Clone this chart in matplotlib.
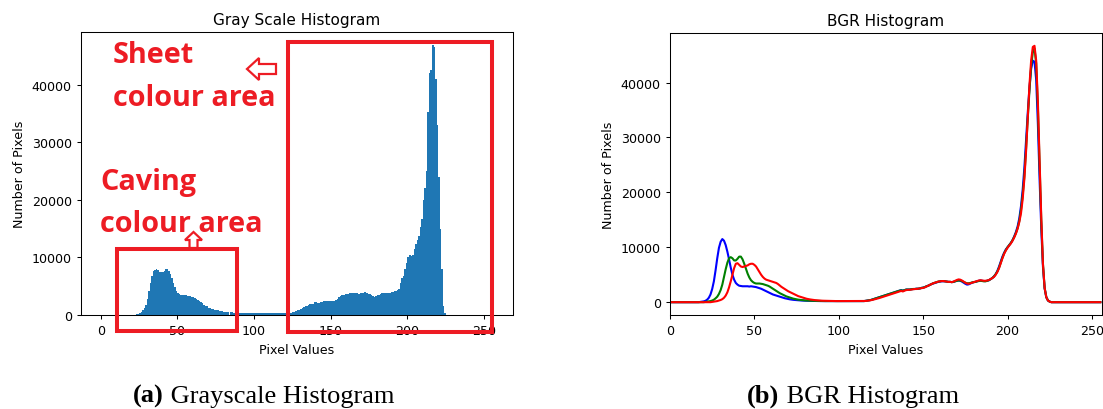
import numpy as np
import matplotlib
matplotlib.use("Agg")
import matplotlib.pyplot as plt
from matplotlib.patches import Rectangle, Polygon

# ---------------------------------------------------------------- data
# intensity levels 0..255 (one histogram bin per level)
pixel_values = np.arange(256)

# grayscale histogram, counts in thousands of pixels
gray_k = (
    [0] * 22
    + [0.05, 0.1, 0.2, 0.3, 0.5, 0.8, 1.2, 1.8, 2.8, 4.2,
       5.6, 6.8, 7.6, 7.9, 8.0, 7.8, 7.5, 7.4, 7.5, 7.7,
       8.0, 8.0, 7.6, 7.1, 6.4, 5.6, 4.8, 4.2, 3.8, 3.6,
       3.5, 3.5, 3.4, 3.4, 3.3, 3.3, 3.3, 3.2, 3.1, 3.0,
       2.8, 2.6, 2.4, 2.2, 2.0, 1.8, 1.6, 1.5, 1.3, 1.2,
       1.1, 1.0, 0.95, 0.9, 0.8, 0.75, 0.7, 0.65, 0.6]
    + [0.55, 0.5, 0.5, 0.45, 0.45, 0.4, 0.4, 0.38, 0.36, 0.35]
    + [0.3] * 29
    + [0.3, 0.3, 0.3, 0.35, 0.4,
       0.5, 0.6, 0.7, 0.8, 0.95, 1.1, 1.2, 1.35, 1.5, 1.6,
       1.75, 1.85, 1.9, 1.9, 2.3, 2.25, 2.1, 2.1, 2.2, 2.3,
       2.35, 2.4, 2.4, 2.35, 2.4, 2.45, 2.5, 2.5, 2.6, 2.8,
       3.1, 3.3, 3.4, 3.5, 3.6, 3.7, 3.7, 3.75, 3.85, 3.9,
       3.8, 3.9, 3.85, 3.7, 3.9, 3.8, 3.9, 4.05, 3.9, 3.7,
       3.6, 3.5, 3.3, 3.15, 3.25, 3.4, 3.5, 3.65, 3.75, 3.85,
       3.9, 3.85, 3.9, 3.9, 3.95, 4.0, 4.1]
    + [4.2, 4.3, 4.5, 5.5, 6.5, 6.8, 8.0, 9.0, 10.0, 10.5,
       10.3, 10.5, 11.5, 12.3, 13.0, 13.8, 15.2, 16.7, 20.0, 22.0,
       25.0, 35.3, 42.0, 42.5, 46.8, 46.5, 41.0, 33.0, 24.0, 15.0,
       8.0, 1.5, 0.3]
    + [0] * 31
)

# per-channel histograms (B, G, R), counts in thousands of pixels
blue_k = (
    [0] * 18
    + [0.05, 0.1, 0.15, 0.25, 0.45, 0.8, 1.4, 2.4, 3.8, 5.8,
       8.0, 9.9, 11.0, 11.5, 11.2, 10.4, 9.2, 7.8, 6.3, 5.0,
       4.1, 3.5, 3.2, 3.0, 2.95, 2.9, 2.9, 2.9, 2.9, 2.85,
       2.9, 2.85, 2.8, 2.75, 2.65, 2.55, 2.45, 2.3, 2.15, 2.0,
       1.85, 1.7, 1.55, 1.4, 1.3, 1.2, 1.1, 1.0, 0.9, 0.8,
       0.72, 0.65, 0.58, 0.52, 0.47, 0.43, 0.4, 0.37, 0.34, 0.32,
       0.3, 0.28, 0.27]
    + [0.26, 0.25, 0.24, 0.23, 0.22, 0.22, 0.21, 0.21, 0.2]
    + [0.2] * 26
    + [0.25, 0.3, 0.35, 0.4, 0.5, 0.6, 0.7, 0.8, 0.9, 1.0,
       1.1, 1.2, 1.3, 1.4, 1.5, 1.6, 1.7, 1.8, 1.9, 2.0,
       2.1, 2.2, 2.1, 2.2, 2.3, 2.3, 2.3, 2.35, 2.4, 2.4,
       2.45, 2.45, 2.5, 2.6, 2.65, 2.75, 2.9, 3.0, 3.15, 3.3,
       3.4, 3.5, 3.6, 3.7, 3.75, 3.8, 3.8, 3.8, 3.75, 3.7,
       3.7, 3.65, 3.7, 3.8, 3.9, 3.95, 3.9, 3.75, 3.55, 3.35,
       3.2, 3.25, 3.4, 3.55, 3.65, 3.7, 3.8, 3.9, 3.95, 3.9,
       3.85, 3.85, 3.9, 4.0, 4.2, 4.4, 4.7, 5.1, 5.7, 6.5,
       7.4, 8.3, 9.0, 9.6, 10.0, 10.4, 10.8, 11.3, 12.0, 12.8,
       13.8, 15.3, 17.5, 20.5, 24.5, 29.5, 34.5, 39.0, 42.5, 44.0,
       43.8, 40.5, 32.5, 22.5, 13.5, 6.5, 2.5, 0.9, 0.3, 0.1]
    + [0] * 30
)

green_k = (
    [0] * 21
    + [0.05, 0.1, 0.15, 0.2, 0.3, 0.45, 0.7, 1.0, 1.5, 2.2,
       3.2, 4.6, 6.0, 7.2, 8.0, 8.2, 8.0, 7.6, 7.6, 7.9,
       8.3, 8.3, 7.8, 7.0, 6.1, 5.2, 4.5, 4.0, 3.7, 3.5,
       3.4, 3.4, 3.4, 3.35, 3.3, 3.2, 3.1, 3.0, 2.85, 2.65,
       2.45, 2.25, 2.05, 1.85, 1.65, 1.5, 1.35, 1.2, 1.05, 0.95,
       0.85, 0.75, 0.65, 0.58, 0.52, 0.46, 0.42, 0.38, 0.35, 0.32]
    + [0.3, 0.28, 0.27, 0.26, 0.25, 0.24, 0.23, 0.22, 0.21]
    + [0.2] * 26
    + [0.25, 0.3, 0.35, 0.4, 0.5, 0.6, 0.7, 0.8, 0.9, 1.0,
       1.1, 1.2, 1.3, 1.4, 1.5, 1.6, 1.7, 1.8, 1.9, 2.0,
       2.1, 2.15, 2.1, 2.2, 2.3, 2.3, 2.3, 2.35, 2.4, 2.4,
       2.45, 2.45, 2.5, 2.6, 2.65, 2.75, 2.9, 3.0, 3.15, 3.3,
       3.45, 3.55, 3.65, 3.75, 3.8, 3.85, 3.85, 3.8, 3.75, 3.7,
       3.7, 3.65, 3.7, 3.8, 3.9, 3.95, 3.95, 3.85, 3.7, 3.55,
       3.45, 3.45, 3.5, 3.6, 3.65, 3.7, 3.8, 3.85, 3.9, 3.85,
       3.8, 3.8, 3.9, 4.0, 4.2, 4.4, 4.7, 5.1, 5.6, 6.3,
       7.2, 8.1, 8.9, 9.5, 10.0, 10.4, 10.8, 11.3, 11.9, 12.6,
       13.5, 14.8, 16.8, 19.5, 23.0, 28.0, 33.5, 38.5, 43.0, 45.5,
       46.2, 43.5, 35.5, 25.0, 15.0, 7.0, 2.6, 0.9, 0.3, 0.1]
    + [0] * 30
)

red_k = (
    [0] * 25
    + [0.05, 0.1, 0.15, 0.2, 0.3, 0.4, 0.55, 0.8, 1.2, 1.8,
       2.7, 3.8, 5.0, 6.2, 7.0, 7.1, 6.8, 6.5, 6.4, 6.5,
       6.6, 6.7, 6.9, 7.0, 7.0, 6.8, 6.5, 6.0, 5.5, 5.0,
       4.6, 4.3, 4.1, 4.0, 3.9, 3.8, 3.7, 3.6, 3.5, 3.3,
       3.05, 2.8, 2.6, 2.4, 2.2, 2.0, 1.85, 1.7, 1.55, 1.4,
       1.25, 1.1, 1.0, 0.9, 0.8, 0.7]
    + [0.62, 0.55, 0.5, 0.45, 0.4, 0.37, 0.34, 0.31, 0.29]
    + [0.27, 0.26, 0.25, 0.24, 0.23, 0.22, 0.21]
    + [0.2] * 19
    + [0.22, 0.25, 0.3, 0.35, 0.42, 0.5, 0.58, 0.66, 0.75, 0.85,
       0.95, 1.05, 1.15, 1.25, 1.35, 1.45, 1.55, 1.65, 1.75, 1.85,
       1.95, 2.05, 1.95, 2.1, 2.2, 2.25, 2.25, 2.3, 2.35, 2.4,
       2.4, 2.45, 2.5, 2.55, 2.6, 2.7, 2.85, 3.0, 3.15, 3.3,
       3.45, 3.55, 3.65, 3.75, 3.8, 3.85, 3.85, 3.8, 3.75, 3.7,
       3.7, 3.65, 3.75, 3.9, 4.05, 4.15, 4.1, 3.95, 3.75, 3.55,
       3.4, 3.35, 3.45, 3.55, 3.65, 3.75, 3.85, 3.95, 4.0, 3.95,
       3.9, 3.9, 3.95, 4.05, 4.2, 4.4, 4.6, 5.0, 5.5, 6.2,
       7.1, 8.0, 8.8, 9.4, 9.9, 10.3, 10.7, 11.2, 11.8, 12.5,
       13.4, 14.6, 16.2, 18.8, 22.5, 27.5, 33.5, 39.5, 44.0, 46.5,
       46.7, 44.0, 36.5, 26.0, 15.5, 7.0, 2.6, 0.9, 0.3, 0.1]
    + [0] * 30
)

for series in (gray_k, blue_k, green_k, red_k):
    assert len(series) == len(pixel_values), len(series)

gray_counts = np.array(gray_k) * 1000
channel_counts = {
    "b": np.array(blue_k) * 1000,
    "g": np.array(green_k) * 1000,
    "r": np.array(red_k) * 1000,
}

x_ticks = [0, 50, 100, 150, 200, 250]
y_ticks = [0, 10000, 20000, 30000, 40000]

# ---------------------------------------------------------------- style
plt.rcParams.update({
    "font.family": "DejaVu Sans",
    "xtick.labelsize": 9.1,
    "ytick.labelsize": 9.1,
    "axes.labelsize": 9.1,
    "axes.titlesize": 11,
    "axes.linewidth": 0.75,
    "xtick.major.size": 3.2,
    "ytick.major.size": 3.2,
    "xtick.major.width": 0.75,
    "ytick.major.width": 0.75,
})

W, H = 1103, 410
fig = plt.figure(figsize=(W / 100, H / 100), dpi=100)


def fx(px):
    return px / W


def fy(py):
    return 1 - py / H


def axes_at(left, top, right, bottom):
    return fig.add_axes([fx(left), fy(bottom), fx(right) - fx(left), fy(top) - fy(bottom)])


RED = "#ed1c24"

# ---------------------------------------------------------------- (a) grayscale
ax1 = axes_at(81, 33, 513, 316)
ax1.hist(pixel_values, bins=np.arange(257), weights=gray_counts, color="#1f77b4")
ax1.set_title("Gray Scale Histogram")
ax1.set_xlabel("Pixel Values")
ax1.set_ylabel("Number of Pixels")
ax1.set_xticks(x_ticks)
ax1.set_yticks(y_ticks)

# ---------------------------------------------------------------- (b) BGR
ax2 = axes_at(670, 34, 1102, 316)
for col, counts in channel_counts.items():
    ax2.plot(pixel_values, counts, color=col, lw=1.5)
ax2.set_xlim(0, 256)
ax2.set_title("BGR Histogram")
ax2.set_xlabel("Pixel Values")
ax2.set_ylabel("Number of Pixels")
ax2.set_xticks(x_ticks)
ax2.set_yticks(y_ticks)

# ---------------------------------------------------------------- call-outs
label_kw = dict(family="Open Sans", weight="bold", size=20.8, color=RED, va="baseline")
fig.text(fx(113), fy(63), "Sheet", **label_kw)
fig.text(fx(113), fy(106), "colour area", **label_kw)
fig.text(fx(100), fy(190), "Caving", **label_kw)
fig.text(fx(100), fy(232), "colour area", **label_kw)


def pix_poly(points, **kw):
    poly = Polygon([(fx(x), fy(y)) for x, y in points], closed=True,
                   transform=fig.transFigure, **kw)
    fig.add_artist(poly)


arrow_kw = dict(facecolor="white", edgecolor=RED, lw=1.6, joinstyle="miter")
# hollow arrow pointing left, towards the sheet region text
pix_poly([(247, 70), (259, 59), (259, 65), (276, 65), (276, 75), (259, 75), (259, 81)], **arrow_kw)
# hollow arrow pointing up, from the caving box
pix_poly([(193.5, 233), (202, 241), (197.5, 241), (197.5, 249), (189.5, 249), (189.5, 241), (185, 241)], **arrow_kw)


def pix_box(left, top, right, bottom):
    rect = Rectangle((fx(left), fy(bottom)), fx(right) - fx(left), fy(top) - fy(bottom),
                     transform=fig.transFigure, fill=False, edgecolor=RED, lw=2.9,
                     joinstyle="miter")
    fig.add_artist(rect)


pix_box(117, 250, 237, 332)
pix_box(288, 42.5, 492, 332.5)

# ---------------------------------------------------------------- captions
renderer = fig.canvas.get_renderer()


def caption(cx, baseline, tag, rest):
    kw = dict(family="Liberation Serif", size=19, va="baseline")
    t1 = fig.text(0, fy(baseline), tag, weight="bold", **kw)
    t2 = fig.text(0, fy(baseline), rest, **kw)
    w1 = t1.get_window_extent(renderer).width
    w2 = t2.get_window_extent(renderer).width
    x0 = cx - (w1 + w2) / 2
    t1.set_x(fx(x0))
    t2.set_x(fx(x0 + w1))


caption(264, 403, "(a)", " Grayscale Histogram")
caption(853, 403, "(b)", " BGR Histogram")

fig.savefig("out.png", dpi=100)
